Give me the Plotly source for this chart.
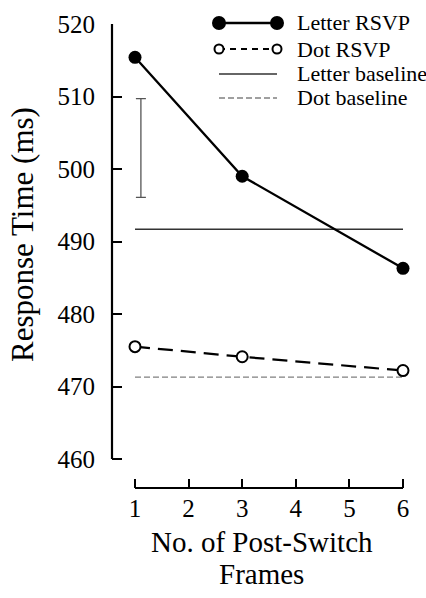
import plotly.graph_objects as go

# Post-switch frame counts and mean response times (ms)
frames = [1, 3, 6]
letter_rsvp = [515.4, 499.0, 486.3]
dot_rsvp = [475.5, 474.1, 472.2]

# Baseline conditions span the whole frame range
baseline_x = [1, 6]
letter_baseline = [491.7, 491.7]
dot_baseline = [471.3, 471.3]

# Representative error bar
err_x = [1.11]
err_mid = [502.9]
err_half = [6.8]

x_ticks = [1, 2, 3, 4, 5, 6]
y_ticks = [460, 470, 480, 490, 500, 510, 520]

legend_labels = ["Letter RSVP", "Dot RSVP", "Letter baseline", "Dot baseline"]

FONT = "Liberation Serif, Times New Roman, serif"
W, H = 426, 598
ML, MR, MT, MB = 112, 16, 24, 110
PW = W - ML - MR
PH = H - MT - MB

# data -> pixel scales used for axis ranges
X_PX_PER_UNIT = 53.6
X1_PX = 135
Y_PX_PER_MS = 7.25
x_range = [x_ticks[0] - (X1_PX - ML) / X_PX_PER_UNIT, 0]
x_range[1] = x_range[0] + PW / X_PX_PER_UNIT
y_range = [y_ticks[-1] - PH / Y_PX_PER_MS, y_ticks[-1]]


def px_x(px):
    return (px - ML) / PW


def px_y(py):
    return (H - MB - py) / PH


fig = go.Figure()

fig.add_trace(go.Scatter(
    x=baseline_x, y=letter_baseline, mode="lines",
    line=dict(color="#333333", width=1.4), showlegend=False,
))
fig.add_trace(go.Scatter(
    x=baseline_x, y=dot_baseline, mode="lines",
    line=dict(color="#808080", width=1.3, dash="6px,3px"), showlegend=False,
))
fig.add_trace(go.Scatter(
    x=err_x, y=err_mid, mode="markers",
    marker=dict(size=1, color="rgba(0,0,0,0)"),
    error_y=dict(type="data", array=err_half, color="#555555",
                 thickness=1.3, width=5),
    showlegend=False, cliponaxis=False,
))
fig.add_trace(go.Scatter(
    x=frames, y=dot_rsvp, mode="lines+markers",
    line=dict(color="black", width=2.2, dash="15px,8px"),
    marker=dict(symbol="circle", size=11, color="white",
                line=dict(color="black", width=2)),
    showlegend=False, cliponaxis=False,
))
fig.add_trace(go.Scatter(
    x=frames, y=letter_rsvp, mode="lines+markers",
    line=dict(color="black", width=2.3),
    marker=dict(symbol="circle", size=13, color="black"),
    showlegend=False, cliponaxis=False,
))

shapes = [
    # x-axis line spanning the tick range
    dict(type="line", xref="x", yref="paper",
         x0=x_ticks[0], x1=x_ticks[-1], y0=0, y1=0,
         line=dict(color="black", width=2), layer="above"),
    # y-axis line spanning the tick range
    dict(type="line", xref="paper", yref="y",
         x0=0, x1=0, y0=y_ticks[0], y1=y_ticks[-1],
         line=dict(color="black", width=2.2), layer="above"),
]
annotations = []

# Legend: sample line with a marker at each end, then the label
rows_py = [23, 49, 74, 98]
lx0, lx1, tx = 219, 277, 295
styles = [
    dict(line=dict(color="black", width=2.3), marker="filled", r=6),
    dict(line=dict(color="black", width=2, dash="6px,5px"), marker="open", r=4.5),
    dict(line=dict(color="#333333", width=1.4), marker=None, r=0),
    dict(line=dict(color="#808080", width=1.3, dash="6px,3px"), marker=None, r=0),
]
for label, py, st in zip(legend_labels, rows_py, styles):
    yy = px_y(py)
    shapes.append(dict(type="line", xref="paper", yref="paper",
                       x0=px_x(lx0), x1=px_x(lx1), y0=yy, y1=yy,
                       line=st["line"], layer="above"))
    if st["marker"]:
        for cx in (lx0, lx1):
            r = st["r"]
            shapes.append(dict(
                type="circle", xref="paper", yref="paper",
                xsizemode="pixel", ysizemode="pixel",
                xanchor=px_x(cx), yanchor=yy,
                x0=-r, x1=r, y0=-r, y1=r,
                fillcolor="black" if st["marker"] == "filled" else "white",
                line=dict(color="black", width=2), layer="above"))
    annotations.append(dict(
        text=label, xref="paper", yref="paper", x=px_x(tx), y=yy,
        xanchor="left", yanchor="middle", showarrow=False,
        font=dict(family=FONT, size=22, color="black")))

# Axis titles
annotations.append(dict(
    text="Response Time (ms)", xref="paper", yref="paper",
    x=px_x(22), y=px_y(235), textangle=-90, showarrow=False,
    xanchor="center", yanchor="middle",
    font=dict(family=FONT, size=31, color="black")))
annotations.append(dict(
    text="No. of Post-Switch", xref="paper", yref="paper",
    x=px_x(261.5), y=px_y(542), showarrow=False,
    xanchor="center", yanchor="middle",
    font=dict(family=FONT, size=29, color="black")))
annotations.append(dict(
    text="Frames", xref="paper", yref="paper",
    x=px_x(261.5), y=px_y(574), showarrow=False,
    xanchor="center", yanchor="middle",
    font=dict(family=FONT, size=29, color="black")))

fig.update_layout(
    width=W, height=H,
    margin=dict(l=ML, r=MR, t=MT, b=MB, pad=0),
    paper_bgcolor="white", plot_bgcolor="white",
    showlegend=False,
    shapes=shapes, annotations=annotations,
    xaxis=dict(
        range=x_range,
        tickvals=x_ticks, ticktext=[str(v) for v in x_ticks],
        ticks="inside", ticklen=9, tickwidth=2, tickcolor="black",
        showline=False, showgrid=False, zeroline=False,
        tickfont=dict(family=FONT, size=25, color="black"),
        ticklabelstandoff=3,
    ),
    yaxis=dict(
        range=y_range,
        tickvals=y_ticks, ticktext=[str(v) for v in y_ticks],
        ticks="inside", ticklen=10, tickwidth=2, tickcolor="black",
        showline=False, showgrid=False, zeroline=False,
        tickfont=dict(family=FONT, size=25, color="black"),
        ticklabelstandoff=16,
    ),
)

fig.write_html("out.html")
